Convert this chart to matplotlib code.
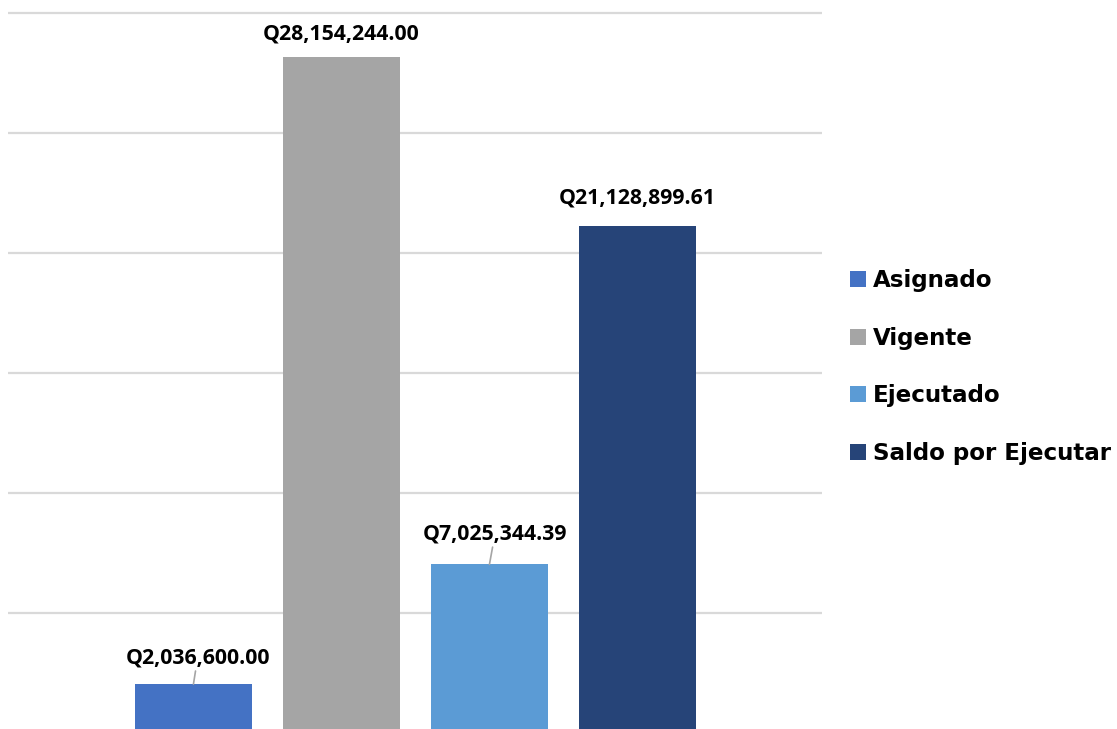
import matplotlib
matplotlib.use("Agg")
import matplotlib.pyplot as plt
from matplotlib.patches import Patch

categories = ["Asignado", "Vigente", "Ejecutado", "Saldo por Ejecutar"]
values = [2036600.00, 28154244.00, 7025344.39, 21128899.61]
labels = ["Q2,036,600.00", "Q28,154,244.00", "Q7,025,344.39", "Q21,128,899.61"]
colors = ["#4472C4", "#A5A5A5", "#5B9BD5", "#264478"]

fig = plt.figure(figsize=(11.17, 7.29), dpi=100)
W, H = 1117, 729
left, right = 8, 822
ymax = 30400000
bot_px = 733
top_px = bot_px - ymax / 1e6 * 24
ax = fig.add_axes([left / W, (H - bot_px) / H, (right - left) / W, (bot_px - top_px) / H])

x = list(range(len(categories)))
ax.bar(x, values, width=0.79, color=colors, zorder=3)
ax.set_xlim(-1.253, 4.247)
ax.set_ylim(0, ymax)
ax.set_yticks([0, 5e6, 10e6, 15e6, 20e6, 25e6, 30e6])
ax.yaxis.grid(True, color="#D9D9D9", linewidth=1.6, zorder=0)
ax.tick_params(left=False, bottom=False, labelleft=False, labelbottom=False)
for s in ax.spines.values():
    s.set_visible(False)

offsets = [(3, 19), (0, 16.5), (4, 22), (0, 20)]
leaders = [True, False, True, False]
for xi, v, lab, off, ld in zip(x, values, labels, offsets, leaders):
    kw = dict(arrowprops=dict(arrowstyle="-", color="#A5A5A5", lw=1.2, shrinkA=0, shrinkB=0)) if ld else {}
    ax.annotate(lab, xy=(xi, v), xytext=off, textcoords="offset points",
                ha="center", va="center", fontsize=15.3, fontweight="bold",
                family="Open Sans", color="black", annotation_clip=False, **kw)

handles = [Patch(facecolor=c, edgecolor="none") for c in colors]
leg = fig.legend(handles, categories, loc="center left", bbox_to_anchor=(850 / W, 1 - 367 / H),
                 frameon=False, prop=dict(family="DejaVu Sans", weight="bold", size=16.6),
                 handlelength=0.68, handleheight=0.68, handletextpad=0.32, labelspacing=1.5,
                 borderaxespad=0, borderpad=0)

fig.savefig("out.png", dpi=100)
